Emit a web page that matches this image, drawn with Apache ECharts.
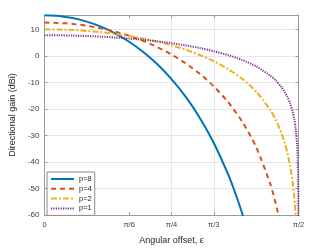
<!DOCTYPE html>
<html><head><meta charset="utf-8">
<script src="https://cdn.jsdelivr.net/npm/echarts@6/dist/echarts.min.js"></script>
<style>html,body{margin:0;padding:0;background:#fff}#c{width:333px;height:250px}</style>
</head><body><div id="c"></div>
<script>
// angular offset in degrees
const epsP8 = [0,5,10,15,20,25,30,35,40,45,50,55,60,65,67.5,70,72];
const gainP8 = [15.32,15.05,14.25,12.91,10.99,8.48,5.32,1.45,-3.20,-8.77,-15.40,-23.31,-32.85,-44.53,-51.43,-59.24,-66.3];
const epsP4 = [0,5,10,15,20,25,30,35,40,45,50,55,60,65,70,75,80,82,83,84];
const gainP4 = [12.55,12.42,12.02,11.35,10.39,9.13,7.56,5.62,3.29,0.51,-2.80,-6.76,-11.53,-17.37,-24.72,-34.41,-48.28,-55.97,-60.58,-65.91];
const epsP2 = [0,5,10,15,20,25,30,35,40,45,50,55,60,65,70,75,80,82,84,85,86,87,88,88.5,89,89.5];
const gainP2 = [10,9.93,9.73,9.40,8.92,8.29,7.50,6.53,5.37,3.98,2.32,0.34,-2.04,-4.96,-8.64,-13.48,-20.41,-24.26,-29.23,-32.39,-36.26,-41.25,-48.29,-53.28,-60.33,-72.4];
const epsP1 = [0,5,10,15,20,25,30,35,40,45,50,55,60,65,70,75,80,82,84,85,86,87,88,88.5,89,89.5,89.8,89.9,89.95,89.99];
const gainP1 = [7.78,7.75,7.65,7.48,7.24,6.93,6.53,6.05,5.47,4.77,3.94,2.95,1.76,0.30,-1.54,-3.96,-7.43,-9.35,-11.83,-13.41,-15.35,-17.84,-21.36,-23.86,-27.38,-33.40,-41.36,-47.38,-53.40,-67.4];
const seriesNames = ['p=8','p=4','p=2','p=1'];
const xTickValues = [0,30,45,60,90];
const xTickLabels = {0:'0',30:'π/6',45:'π/4',60:'π/3',90:'π/2'};

const pair = (xs, ys) => xs.map((x,i)=>[x, ys[i]]);
const FONT = 'Liberation Sans';
const axisCol = '#9a9a9a';
const gridCol = '#e6e6e6';
const chart = echarts.init(document.getElementById('c'), null, {renderer:'canvas'});
const xBase = {
  type:'value', min:0, max:90, interval:15,
  axisLine:{show:true, onZero:false, lineStyle:{color:axisCol, width:1}},
  axisTick:{show:true, inside:true, length:3, customValues:xTickValues, lineStyle:{color:axisCol}},
};
const yBase = {
  type:'value', min:-60, max:15.4, interval:10,
  axisLine:{show:true, onZero:false, lineStyle:{color:axisCol, width:1}},
  axisTick:{show:true, inside:true, length:3, lineStyle:{color:axisCol}},
};
chart.setOption({
  animation:false,
  backgroundColor:'#fff',
  grid:{left:41, right:34.5, top:15, bottom:30, containLabel:false},
  xAxis:[
    Object.assign({}, xBase, {
      position:'bottom',
      name:'Angular offset, ε', nameLocation:'middle', nameGap:21,
      nameTextStyle:{fontFamily:FONT, fontSize:9, color:'#262626'},
      axisLabel:{show:true, customValues:xTickValues, margin:6, fontFamily:FONT, fontSize:7.5, color:'#404040',
        formatter:v=> (xTickLabels[v] !== undefined ? xTickLabels[v] : '')},
      splitLine:{show:true, lineStyle:{width:1, color:[gridCol,'rgba(0,0,0,0)',gridCol,gridCol,gridCol,'rgba(0,0,0,0)',gridCol]}}
    }),
    Object.assign({}, xBase, {position:'top', axisLabel:{show:false}, splitLine:{show:false}})
  ],
  yAxis:[
    Object.assign({}, yBase, {
      position:'left',
      name:'Directional gain (dBi)', nameLocation:'middle', nameGap:24,
      nameTextStyle:{fontFamily:FONT, fontSize:9, color:'#262626'},
      axisLabel:{show:true, showMaxLabel:false, margin:5, fontFamily:FONT, fontSize:8, color:'#404040'},
      splitLine:{show:true, lineStyle:{color:gridCol, width:1}}
    }),
    Object.assign({}, yBase, {position:'right', axisLabel:{show:false}, splitLine:{show:false}})
  ],
  legend:{
    orient:'vertical', left:47, top:172, data:seriesNames,
    itemWidth:23, itemHeight:8, itemGap:1.8, padding:[3,3,3,3],
    borderColor:'#8a8a8a', borderWidth:1, backgroundColor:'#fff',
    textStyle:{fontFamily:FONT, fontSize:7.5, color:'#262626'}, itemStyle:{opacity:0}
  },
  series:[
    {name:'p=8', type:'line', data:pair(epsP8,gainP8), symbol:'none', smooth:0.25, clip:true,
      lineStyle:{color:'#0072BD', width:2, type:'solid'}, itemStyle:{color:'#0072BD'}},
    {name:'p=4', type:'line', data:pair(epsP4,gainP4), symbol:'none', smooth:0.25, clip:true,
      lineStyle:{color:'#D95319', width:2, type:[5,4]}, itemStyle:{color:'#D95319'}},
    {name:'p=2', type:'line', data:pair(epsP2,gainP2), symbol:'none', smooth:0.25, clip:true,
      lineStyle:{color:'#EDB120', width:2, type:[6,2,2,2]}, itemStyle:{color:'#EDB120'}},
    {name:'p=1', type:'line', data:pair(epsP1,gainP1), symbol:'none', smooth:0.25, clip:true,
      lineStyle:{color:'#7E2F8E', width:2, type:[1.2,1.2]}, itemStyle:{color:'#7E2F8E'}}
  ]
});
</script></body></html>
